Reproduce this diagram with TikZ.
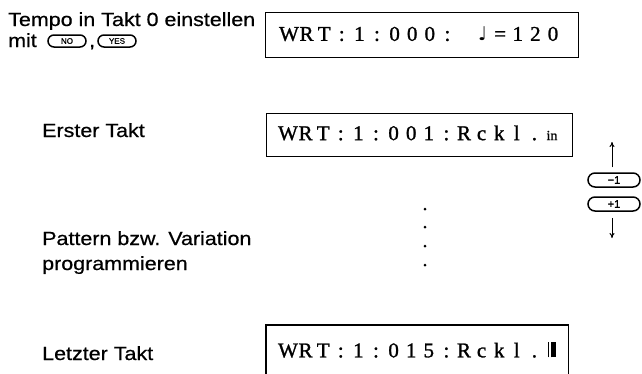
\documentclass[tikz,border=0pt]{standalone}
\usepackage{fontspec}
\setmainfont{Liberation Sans}[FakeStretch=1.13, FakeBold=0.6]
\newfontfamily\lcdfont{Liberation Serif}[FakeBold=1.2]
\newfontfamily\btnfont{Liberation Sans}[FakeBold=1]
\newfontfamily\symfont{DejaVu Sans}
\usetikzlibrary{arrows.meta}
\makeatletter
\newlength\lcdpitch
\setlength\lcdpitch{17.6pt}
\let\lcd@end\relax
\def\lcdchars#1{\lcd@a#1\lcd@end}
\def\lcd@a#1{\ifx#1\lcd@end\else\makebox[\lcdpitch]{#1}\expandafter\lcd@a\fi}
\makeatother
\newcommand\notechar{{\symfont\fontsize{19}{19}\selectfont ♩}}
\newcommand\smallin{{\fontsize{14}{14}\selectfont in}}
\newcommand\cursorbar{\rule{1.2pt}{15pt}\hspace{2pt}\rule{5pt}{15pt}}
\tikzset{
  lbl/.style={anchor=base west, inner sep=0pt, font=\fontsize{19}{22}\selectfont},
  lcdbox/.style={draw, line width=1.1pt, inner sep=0pt, anchor=north west},
  lcdtxt/.style={anchor=west, inner sep=0pt, font=\lcdfont\fontsize{21}{21}\selectfont},
  btn/.style={draw, line width=1.5pt, rounded corners=6pt, inner sep=0pt,
    font=\btnfont\fontsize{8}{8}\selectfont},
  dot/.style={circle, fill, inner sep=0pt, minimum size=3pt},
  arr/.style={-{To[length=5pt,width=5pt]}, line width=1pt}
}
\begin{document}
\begin{tikzpicture}[x=1pt,y=-1pt]
\useasboundingbox (0,0) rectangle (642,373);
% left labels
\node[lbl] (l1) at (8,26) {Tempo in Takt 0 einstellen};
\node[lbl] (l2) at (8,47) {mit};
\node[btn, minimum width=38pt, minimum height=12pt] (no) at (67,41) {NO};
\node[lbl] (comma) at (89,47) {,};
\node[btn, minimum width=38pt, minimum height=12pt] (yes) at (117,41) {YES};
\node[lbl] (l3) at (42,137) {Erster Takt};
\node[lbl] (l4) at (42,245) {Pattern bzw. Variation};
\node[lbl] (l5) at (42,270) {programmieren};
\node[lbl] (l6) at (42,360) {Letzter Takt};
% display boxes
\node[lcdbox, minimum width=313pt, minimum height=45pt] (b1) at (265,12) {};
\node[lcdtxt] (t1) at (280,34) {\lcdchars{WRT:1:000:~\notechar=120}};
\node[lcdbox, minimum width=306pt, minimum height=43pt] (b2) at (266,113) {};
\node[lcdtxt] (t2) at (279,133) {\lcdchars{WRT:1:001:Rckl.\smallin}};
\node[inner sep=0pt, minimum width=302pt, minimum height=54pt, anchor=north west] (b3) at (266,325) {};
\draw[line width=1.1pt] (b3.south west) -- (b3.north west) -- (b3.north east) -- (b3.south east);
\node[lcdtxt] (t3) at (279,350) {\lcdchars{WRT:1:015:Rckl.\cursorbar}};
% dots
\node[dot] (d1) at (425,209) {};
\node[dot] (d2) at (425,227) {};
\node[dot] (d3) at (425,246) {};
\node[dot] (d4) at (425,265) {};
% -1 / +1 buttons with arrows
\node[btn, minimum width=52pt, minimum height=14pt, rounded corners=7pt] (m1) at (614,180) {\fontsize{11}{11}\selectfont −1};
\node[btn, minimum width=52pt, minimum height=14pt, rounded corners=7pt] (p1) at (614,204) {\fontsize{11}{11}\selectfont +1};
\coordinate (uptip) at (612,142);
\coordinate (dntip) at (612,238);
\draw[arr, shorten <=5pt] (m1.north -| uptip) -- (uptip);
\draw[arr, shorten <=6pt] (p1.south -| dntip) -- (dntip);
\end{tikzpicture}
\end{document}
